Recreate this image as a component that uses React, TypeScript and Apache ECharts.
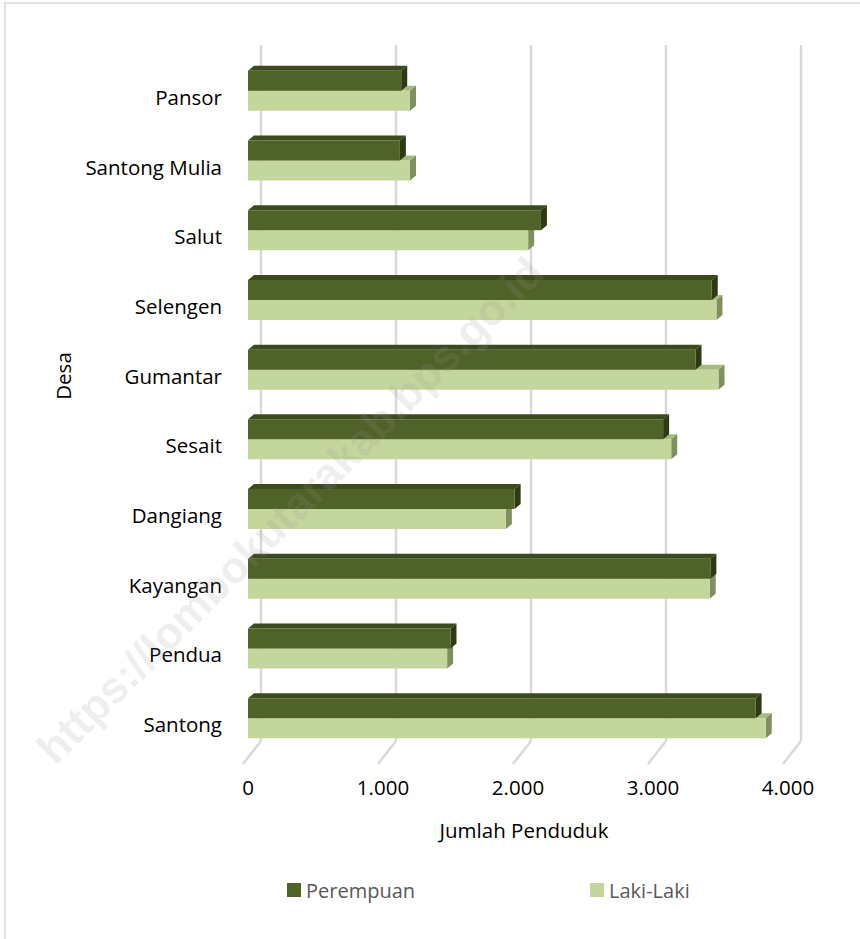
import React, { useEffect, useRef } from "react";
import * as echarts from "echarts";

const categories = ["Santong", "Pendua", "Kayangan", "Dangiang", "Sesait", "Gumantar", "Selengen", "Salut", "Santong Mulia", "Pansor"];
const perempuan = [3760, 1500, 3425, 1975, 3075, 3315, 3435, 2170, 1125, 1135];
const lakiLaki = [3835, 1475, 3420, 1910, 3135, 3485, 3470, 2075, 1200, 1200];
const xTicks = [0, 1000, 2000, 3000, 4000];

const FONT = "Open Sans";
const P_FRONT = "#4F6228";
const P_TOP = "#3C4B1D";
const P_SIDE = "#2E3A13";
const L_FRONT = "#C3D69B";
const L_TOP = "#A6BA7E";
const L_SIDE = "#7F8F5F";

const fmt = (v: number) => String(v).replace(/\B(?=(\d{3})+(?!\d))/g, ".");

function makeBarRender(upper: boolean, front: string, top: string, side: string) {
  return (params: any, api: any) => {
    const v = api.value(0);
    const ci = api.value(1);
    const [x, yc] = api.coord([v, ci]);
    const [x0] = api.coord([0, ci]);
    const h = 20;
    const dx = 6;
    const dy = -5;
    const yT = upper ? yc - 26 : yc - 6;
    const yB = yT + h;
    return {
      type: "group",
      children: [
        { type: "polygon", shape: { points: [[x0, yT], [x0 + dx, yT + dy], [x + dx, yT + dy], [x, yT]] }, style: { fill: top } },
        { type: "polygon", shape: { points: [[x, yT], [x + dx, yT + dy], [x + dx, yB + dy], [x, yB]] }, style: { fill: side } },
        { type: "rect", shape: { x: x0, y: yT, width: x - x0, height: h }, style: { fill: front } },
      ],
    };
  };
}

export default function App() {
  const ref = useRef<HTMLDivElement>(null);
  useEffect(() => {
    document.body.style.margin = "0";
    const chart = echarts.init(ref.current!, undefined, { renderer: "svg" });
    chart.setOption({
      animation: false,
      backgroundColor: "#ffffff",
      textStyle: { fontFamily: FONT },
      grid: { left: 248, right: 72, top: 62, bottom: 180, containLabel: false },
      xAxis: {
        type: "value",
        min: 0,
        max: 4000,
        interval: 1000,
        axisLine: { show: false },
        axisTick: { show: false },
        splitLine: { show: false },
        axisLabel: { fontSize: 20.5, color: "#000", fontFamily: FONT, margin: 17, formatter: (v: number) => fmt(v) },
      },
      yAxis: {
        type: "category",
        data: categories,
        axisLine: { show: false },
        axisTick: { show: false },
        splitLine: { show: false },
        axisLabel: { fontSize: 20.5, color: "#000", fontFamily: FONT, margin: 26 },
      },
      legend: {
        data: ["Perempuan", "Laki-Laki"],
        left: 282,
        top: 875,
        icon: "rect",
        itemWidth: 14,
        itemHeight: 14,
        itemGap: 175,
        textStyle: { fontSize: 20, color: "#595959", fontFamily: FONT },
      },
      graphic: [
        { type: "rect", shape: { x: 5, y: 3, width: 900, height: 1000 }, style: { fill: "none", stroke: "#D9D9D9", lineWidth: 1.5 }, z: -10 },
        { type: "text", x: 63, y: 376, rotation: Math.PI / 2, style: { text: "Desa", x: 0, y: 0, align: "center", verticalAlign: "middle", fontSize: 20.5, fontFamily: FONT, fill: "#000" } },
        { type: "text", x: 524, y: 830, style: { text: "Jumlah Penduduk", x: 0, y: 0, align: "center", verticalAlign: "middle", fontSize: 20.5, fontFamily: FONT, fill: "#000" } },
        { type: "text", x: 290, y: 510, rotation: (45 * Math.PI) / 180, z: 100, silent: true, style: { text: "https://lombokutarakab.bps.go.id", x: 0, y: 0, align: "center", verticalAlign: "middle", fontSize: 44, fontWeight: "bold", fontFamily: "Liberation Sans", fill: "rgba(150,150,150,0.16)" } },
      ],
      series: [
        {
          type: "custom",
          silent: true,
          z: 1,
          data: xTicks.map((t) => [t, 0]),
          encode: { x: 0, y: 1 },
          renderItem: (params: any, api: any) => {
            const cs = params.coordSys;
            const [x] = api.coord([api.value(0), 0]);
            const yTop = cs.y - 17;
            const yBack = cs.y + cs.height - 18;
            return {
              type: "group",
              children: [
                { type: "line", shape: { x1: x + 13, y1: yTop, x2: x + 13, y2: yBack }, style: { stroke: "#D9D9D9", lineWidth: 2.5 } },
                { type: "line", shape: { x1: x + 13, y1: yBack, x2: x - 5, y2: yBack + 23 }, style: { stroke: "#D9D9D9", lineWidth: 2.5 } },
              ],
            };
          },
        },
        {
          name: "Laki-Laki",
          type: "custom",
          z: 2,
          itemStyle: { color: L_FRONT },
          data: lakiLaki.map((v, i) => [v, i]),
          encode: { x: 0, y: 1 },
          renderItem: makeBarRender(false, L_FRONT, L_TOP, L_SIDE),
        },
        {
          name: "Perempuan",
          type: "custom",
          z: 3,
          itemStyle: { color: P_FRONT },
          data: perempuan.map((v, i) => [v, i]),
          encode: { x: 0, y: 1 },
          renderItem: makeBarRender(true, P_FRONT, P_TOP, P_SIDE),
        },
      ],
    });
    return () => chart.dispose();
  }, []);
  return <div ref={ref} style={{ width: 860, height: 939 }} />;
}
